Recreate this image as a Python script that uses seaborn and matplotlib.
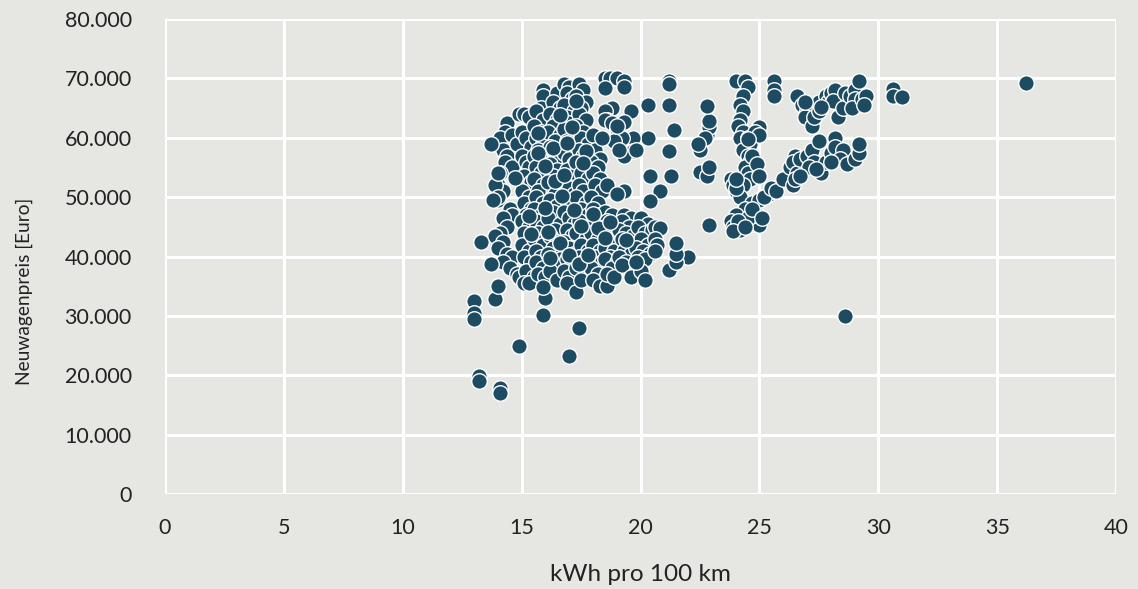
import pandas as pd
import matplotlib.pyplot as plt
import seaborn as sns

# kWh pro 100 km / Neuwagenpreis
outlier_kwh = [13.0, 13.0, 13.0, 13.2, 13.2, 14.1, 14.1, 14.9, 17.0, 17.4, 15.9, 16.0, 15.9, 13.9, 14.0,
               13.7, 13.3, 13.7, 28.6, 36.2, 30.6, 30.6, 31.0, 22.0, 22.9, 21.2, 21.5, 21.5, 21.5]
outlier_price = [32500, 30500, 29500, 19800, 19000, 17900, 17000, 25000, 23300, 28000, 30200, 33000, 34800, 32900, 35000,
                 38800, 42500, 59000, 30000, 69200, 68200, 67000, 66800, 40000, 45300, 37800, 39000, 40500, 42200]

upper_kwh = [21.2, 21.2, 21.2, 20.3, 19.6, 21.2, 21.4, 21.3, 20.4, 20.8, 20.4, 20.3, 19.7, 19.7, 19.3, 19.3,
             18.5, 18.7, 19.0, 19.3, 18.5, 19.3, 18.8, 18.5, 18.6, 18.5, 18.8, 19.0, 19.2, 18.9, 19.1, 18.4,
             19.8, 19.3, 19.0, 19.3, 19.0]
upper_price = [69500, 69000, 65500, 65500, 64500, 57700, 61300, 53500, 53500, 51000, 49300, 60000, 60000, 57800, 57000, 51000,
               70000, 70000, 70000, 69500, 68400, 68500, 65000, 64500, 63000, 63000, 62500, 61500, 60000, 59500, 58000, 60000,
               58000, 62600, 62000, 51000, 50500]

main_kwh = [
    14.4, 14.3, 14.1, 14.2, 14.4, 14.3, 14.6, 14.1, 14.0, 14.2, 14.0, 14.5, 14.6, 14.2, 14.4, 14.1, 13.9, 14.2,
    14.0, 14.4, 14.6, 14.2, 14.5, 14.8, 14.9, 13.9, 14.0, 14.0, 13.8, 14.9, 15.2, 14.6, 14.8,
    15.1, 15.3, 15.0, 15.2, 15.4, 15.0, 15.2, 15.3, 15.1, 15.4, 15.0, 15.3, 15.1, 15.4, 15.2, 15.0, 15.3, 15.1,
    15.4, 15.0, 15.3, 15.1, 15.4, 15.2, 15.5, 15.1, 15.3,
    15.9, 15.9, 15.8, 15.6, 15.9, 15.5, 15.8, 15.6, 15.9, 15.7, 15.5, 15.9, 15.6, 15.8, 15.5, 15.9, 15.7, 15.6,
    15.9, 15.5, 15.8, 15.6, 15.9, 15.7, 15.5, 15.9, 15.6, 15.8, 15.6, 15.9, 15.7, 16.0,
    16.5, 16.3, 16.6, 16.2, 16.5, 16.3, 16.1, 16.6, 16.4, 16.2, 16.6, 16.4, 16.2, 16.5, 16.3, 16.1, 16.6, 16.4,
    16.2, 16.5, 16.3, 16.1, 16.6, 16.4, 16.2, 16.5, 16.3, 16.1, 16.6, 16.4, 16.2, 16.5,
    16.8, 17.0, 16.9, 17.1, 16.8, 17.2, 16.9, 17.0, 16.8, 17.2, 16.9, 17.1, 16.8, 17.0, 17.2, 16.9, 17.1, 16.8,
    17.0, 17.2, 16.9, 17.1, 16.8, 17.0, 17.2, 16.9, 17.1, 16.8, 17.0, 17.2, 16.9, 17.1, 16.8, 17.0, 16.9, 17.3,
    17.4, 17.6, 17.3, 17.7, 17.5, 17.4, 17.7, 17.3, 17.6, 17.5, 17.8, 17.4, 17.6, 17.3, 17.7, 17.5, 17.8, 17.4,
    17.6, 17.3, 17.7, 17.5, 17.8, 17.4, 17.6, 17.3, 17.7, 17.5, 17.8, 17.4, 17.6, 17.3, 17.7, 17.5,
    18.0, 18.1, 18.3, 17.9, 18.2, 18.0, 18.3, 18.1, 18.4, 17.9, 18.2, 18.0, 18.3, 18.1, 18.4, 17.9, 18.2, 18.0,
    18.3, 18.1, 18.4, 17.9, 18.2, 18.0, 18.3, 18.6,
    18.6, 18.5, 18.8, 18.6, 18.9, 18.5, 18.7, 19.0, 18.6, 18.8, 18.5, 18.9, 18.7, 18.5, 19.0, 18.8, 18.6, 18.9,
    19.3, 19.6, 19.2, 19.5, 19.1, 19.4, 19.7, 19.2, 19.5, 19.3, 19.6, 19.1, 19.4, 19.2, 19.6,
    20.0, 20.3, 19.9, 20.2, 20.5, 20.0, 20.3, 19.8, 20.1, 20.4, 19.9, 20.2, 20.0, 20.2, 19.8,
    20.6, 20.8, 20.6, 20.7, 20.6,
    # extra fill in the densest part
    15.7, 16.0, 16.4, 16.7, 17.2, 17.5, 16.1, 16.6, 17.0, 17.4, 15.4, 16.0, 16.8, 17.7, 18.2, 15.7, 16.3, 17.1,
    16.6, 17.3, 18.0, 18.7, 19.4, 16.2, 17.8, 15.3, 14.7, 16.9, 17.6, 18.5,
]
main_price = [
    62500, 61000, 60000, 58000, 57000, 56000, 55000, 54000, 52000, 51000, 49500, 48000, 47000, 46500, 45000, 44000, 43500, 42500,
    41500, 40500, 40000, 39000, 38000, 37000, 36500, 52000, 50000, 54000, 49500, 64000, 64000, 60500, 59000,
    64000, 63500, 61000, 60000, 58500, 57000, 56000, 55000, 53500, 52500, 51000, 50000, 49000, 48000, 47000, 46000, 45000, 44000,
    43000, 42000, 41000, 40000, 39000, 37500, 36500, 35500, 35500,
    68000, 67000, 65000, 64500, 63000, 62000, 61000, 60000, 59000, 58000, 57000, 56000, 55000, 54000, 53000, 52000, 51000, 50000,
    49000, 48000, 47000, 46000, 45000, 44000, 43000, 42000, 41000, 40000, 39000, 38000, 37000, 36500,
    67500, 66000, 65000, 64000, 63000, 62000, 61000, 60500, 59500, 58500, 57500, 56500, 55500, 54500, 53500, 52500, 51500, 50500,
    49500, 48500, 47500, 46500, 45500, 44500, 43500, 42500, 41500, 40500, 39500, 38500, 37500, 36000,
    69000, 68500, 67500, 66500, 65500, 64500, 63500, 62500, 61500, 60500, 59500, 58500, 57500, 56500, 55500, 54500, 53500, 52500,
    51500, 50500, 49500, 48500, 47500, 46500, 45500, 44500, 43500, 42500, 41500, 40500, 39500, 38500, 37500, 36500, 35500, 34000,
    69000, 68000, 67000, 66000, 65000, 64000, 63000, 62000, 61000, 60000, 59000, 58000, 57000, 56000, 55000, 54000, 53000, 52000,
    51000, 50000, 49000, 48000, 47000, 46000, 45000, 44000, 43000, 42000, 41000, 40000, 39000, 38000, 37000, 36000,
    60500, 58000, 56500, 56000, 55000, 54000, 53000, 52000, 51000, 50000, 49000, 48000, 47000, 46000, 45000, 44000, 43000, 42000,
    41000, 40000, 39000, 38000, 37000, 36000, 35000, 35000,
    52000, 47500, 47000, 46000, 45500, 45000, 44000, 43500, 43000, 42000, 41500, 41000, 40000, 39500, 39000, 38000, 37000, 36500,
    47000, 46500, 46000, 45000, 44500, 44000, 43500, 43000, 42000, 41000, 40500, 40000, 39000, 38500, 36500,
    46500, 45500, 45000, 44000, 44500, 43000, 42000, 41500, 41000, 40500, 40000, 39500, 37500, 36000, 39000,
    45000, 44800, 43000, 42000, 41000,
    57500, 55200, 52800, 50200, 47800, 45200, 44200, 42200, 40200, 38800, 43800, 48200, 53800, 57800, 44800, 60800, 58200, 61800,
    63800, 66200, 47200, 45800, 42800, 39800, 40200, 46800, 53200, 59200, 55800, 43200,
]

right_kwh = [
    24.0, 24.4, 24.5, 24.3, 24.2, 24.3, 24.2, 24.1, 24.3, 24.2, 24.5, 24.6, 24.3, 24.5, 24.6, 24.4, 24.5, 24.6,
    24.3, 24.0, 24.2, 24.7, 25.0, 24.4, 24.0, 23.8, 23.9, 24.2, 24.8, 25.0, 24.9, 25.4, 25.6, 25.2,
    22.5, 22.8, 22.9, 22.9, 22.8, 22.7, 22.4, 22.5, 22.8, 22.9, 23.8, 23.9, 24.0, 24.0,
    25.0, 24.8, 25.0, 24.5, 24.7, 24.9, 25.0, 25.6, 25.6, 25.6, 24.5, 24.1, 23.9, 24.7, 24.4, 25.1,
]
right_price = [
    69500, 69500, 68500, 67000, 65500, 64500, 63000, 62000, 61000, 60000, 60000, 59000, 58000, 57000, 56000, 55000, 54000, 53000,
    52000, 51000, 50000, 49000, 49500, 48000, 47000, 46000, 45000, 44500, 45500, 45300, 47000, 50500, 51000, 50000,
    58000, 60500, 61800, 62800, 65300, 60000, 59000, 54200, 53500, 55000, 53000, 52000, 51500, 53000,
    61800, 61000, 60500, 59800, 57000, 55500, 53500, 69500, 68000, 67000, 46500, 46000, 44300, 48000, 45000, 46500,
]

far_kwh = [
    26.6, 26.8, 27.0, 26.9, 27.2, 27.3, 27.5, 27.5, 27.8, 27.9, 28.0, 28.2, 28.1, 28.3, 28.5, 28.6, 28.8, 29.0,
    29.2, 29.0, 28.9, 29.3, 29.5, 29.4, 27.6, 26.9,
    25.5, 25.7, 26.0, 26.3, 26.5, 26.4, 26.6, 26.4, 26.5, 26.7, 27.0, 27.2, 27.5, 27.3, 27.6, 27.1, 27.8, 28.0,
    28.2, 28.2, 28.5, 28.4, 28.7, 29.0, 29.2, 29.2, 28.0, 27.4, 26.7,
]
far_price = [
    67000, 65500, 64500, 63500, 62000, 63500, 66000, 64500, 67000, 66000, 67500, 68000, 66200, 63500, 65000, 67500, 67000, 68000,
    69500, 66500, 65000, 66500, 67000, 65500, 65200, 66000,
    51500, 51000, 53000, 55000, 57000, 56000, 54000, 52000, 53000, 56500, 57000, 58000, 59500, 56000, 54000, 55000, 56000, 57500,
    60000, 58500, 58000, 56500, 55500, 56500, 57500, 59000, 56000, 54800, 53500,
]

x_ticks = [0, 5, 10, 15, 20, 25, 30, 35, 40]
y_ticks = [0, 10000, 20000, 30000, 40000, 50000, 60000, 70000, 80000]
y_tick_labels = ['0', '10.000', '20.000', '30.000', '40.000', '50.000', '60.000', '70.000', '80.000']

df = pd.DataFrame({
    'kwh': main_kwh + upper_kwh + right_kwh + far_kwh + outlier_kwh,
    'preis': main_price + upper_price + right_price + far_price + outlier_price,
})

bg = '#e6e6e2'
sns.set_style("whitegrid", {'axes.facecolor': bg, 'grid.color': 'white'})
plt.rcParams['font.family'] = ['Lato', 'DejaVu Sans']

fig = plt.figure(figsize=(11.38, 5.89), dpi=100, facecolor=bg)
ax = fig.add_axes([0.145, 0.1613, 0.8357, 0.8064])
sns.scatterplot(data=df, x='kwh', y='preis', color='#1d4b61', s=125,
                edgecolor='white', linewidth=1, ax=ax, zorder=3)

ax.set_xlim(0, 40)
ax.set_ylim(0, 80000)
ax.set_xticks(x_ticks)
ax.set_yticks(y_ticks)
ax.set_yticklabels(y_tick_labels)
ax.grid(True, color='white', linewidth=2.2)
for s in ax.spines.values():
    s.set_visible(False)
ax.tick_params(axis='both', length=0, labelsize=15.5, colors='#222222')
ax.tick_params(axis='y', pad=24)
ax.tick_params(axis='x', pad=17)
ax.set_xlabel('kWh pro 100 km', fontsize=17.5, color='#222222', labelpad=19)
ax.set_ylabel('Neuwagenpreis [Euro]', fontsize=13.8, color='#222222')
ax.yaxis.set_label_coords(-0.139, 0.427)

fig.savefig('out.png', dpi=100, facecolor=bg)
